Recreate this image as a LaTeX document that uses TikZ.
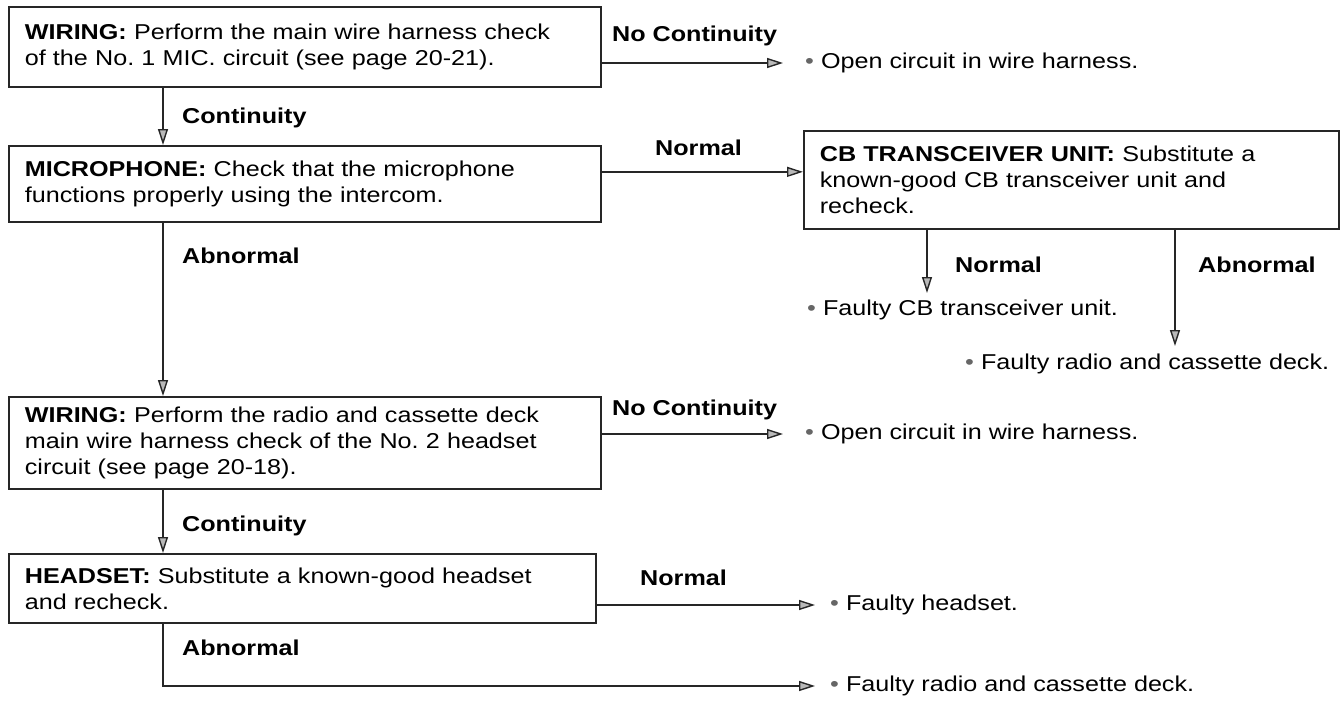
\documentclass[tikz,border=0pt]{standalone}
\usepackage{fontspec}
\setmainfont{Liberation Sans}[FakeStretch=1.17]
\usetikzlibrary{arrows.meta,positioning}
\frenchspacing

\newcommand{\bul}{{\color{black!60}\textbullet}\hspace{7pt}}

\begin{document}
\begin{tikzpicture}[x=1pt, y=-1pt, font=\fontsize{21.5}{26}\selectfont,
  box/.style={draw=black!85, line width=1.7pt, anchor=north west, align=left, inner xsep=16pt, inner ysep=0pt},
  lbl/.style={font=\fontsize{21.5}{26}\selectfont\bfseries, anchor=west, inner sep=0pt},
  res/.style={anchor=west, inner sep=0pt},
  link/.style={draw=black!85, line width=1.4pt},
  >={Triangle[length=16pt, width=10pt, fill=gray!55]}]
\useasboundingbox (0,0) rectangle (1340,704);
% step boxes
\node[box, text width=560pt, minimum height=80pt] (wire1) at (8,6) {\textbf{WIRING:} Perform the main wire harness check\\of the No. 1 MIC. circuit (see page 20-21).};
\node[box, text width=560pt, minimum height=76pt] (mic) at (8,145) {\textbf{MICROPHONE:} Check that the microphone\\functions properly using the intercom.};
\node[box, text width=503pt, minimum height=98pt] (cb) at (803,130) {\textbf{CB TRANSCEIVER UNIT:} Substitute a\\known-good CB transceiver unit and\\recheck.};
\node[box, text width=560pt, minimum height=92pt] (wire2) at (8,396) {\textbf{WIRING:} Perform the radio and cassette deck\\main wire harness check of the No. 2 headset\\circuit (see page 20-18).};
\node[box, text width=555pt, minimum height=69pt] (head) at (8,553) {\textbf{HEADSET:} Substitute a known-good headset\\and recheck.};
% results
\node[res] (r1) at (805,63) {\bul Open circuit in wire harness.};
\node[res] (r2) at (807,310) {\bul Faulty CB transceiver unit.};
\node[res] (r3) at (965,364) {\bul Faulty radio and cassette deck.};
\node[res] (r4) at (805,434) {\bul Open circuit in wire harness.};
\node[res] (r5) at (830,605) {\bul Faulty headset.};
\node[res] (r6) at (830,686) {\bul Faulty radio and cassette deck.};
% branch labels
\node[lbl] (l1) at (612,36) {No Continuity};
\node[lbl] (l2) at (182,118) {Continuity};
\node[lbl] (l3) at (655,148) {Normal};
\node[lbl] (l4) at (955,265) {Normal};
\node[lbl] (l5) at (1198,265) {Abnormal};
\node[lbl] (l6) at (182,256) {Abnormal};
\node[lbl] (l7) at (612,410) {No Continuity};
\node[lbl] (l8) at (182,526) {Continuity};
\node[lbl] (l9) at (640,578) {Normal};
\node[lbl] (l10) at (182,648) {Abnormal};
% connectors
\coordinate (colA) at (163,0);
\coordinate (cbin) at ([yshift=8pt]cb.west);
\coordinate (cbN) at (927,293);
\coordinate (cbA) at (1175,346);
\draw[link, ->] (wire1.south -| colA) -- (mic.north -| colA);
\draw[link, ->] (wire1.east |- r1.west) -- ([xshift=-22pt]r1.west);
\draw[link, ->] (mic.east |- cbin) -- (cbin);
\draw[link, ->] (mic.south -| colA) -- (wire2.north -| colA);
\draw[link, ->] (cb.south -| cbN) -- (cbN);
\draw[link, ->] (cb.south -| cbA) -- (cbA);
\draw[link, ->] (wire2.east |- r4.west) -- ([xshift=-22pt]r4.west);
\draw[link, ->] (wire2.south -| colA) -- (head.north -| colA);
\draw[link, ->] (head.east |- r5.west) -- ([xshift=-15pt]r5.west);
\draw[link, ->] (head.south -| colA) |- ([xshift=-15pt]r6.west);
\end{tikzpicture}
\end{document}
